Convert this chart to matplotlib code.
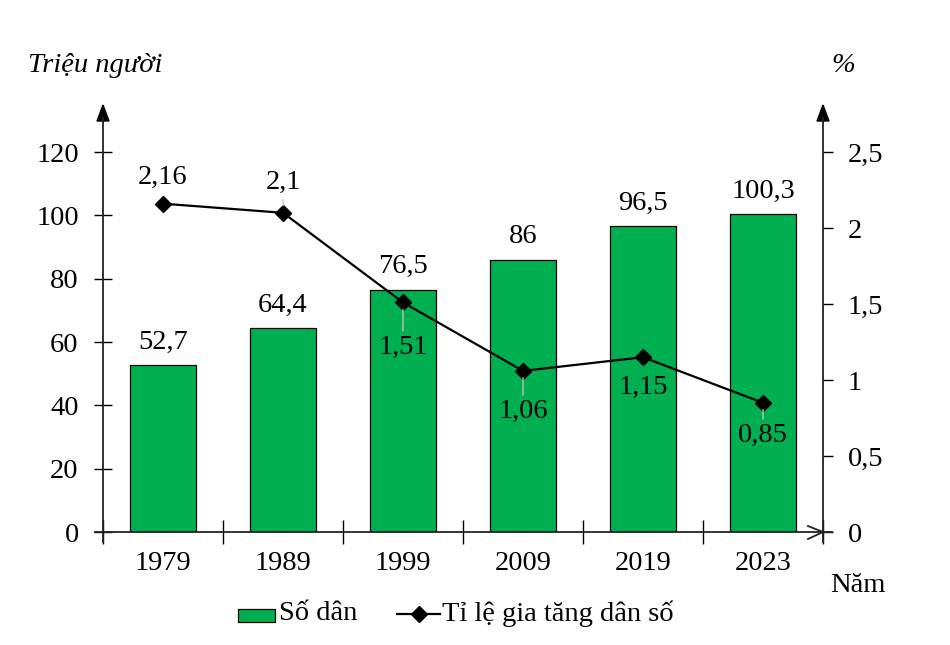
import matplotlib
matplotlib.use("Agg")
import matplotlib.pyplot as plt
from matplotlib.lines import Line2D
from matplotlib.patches import Rectangle

years = ["1979", "1989", "1999", "2009", "2019", "2023"]
population = [52.7, 64.4, 76.5, 86, 96.5, 100.3]
growth_rate = [2.16, 2.1, 1.51, 1.06, 1.15, 0.85]
pop_labels = ["52,7", "64,4", "76,5", "86", "96,5", "100,3"]
rate_labels = ["2,16", "2,1", "1,51", "1,06", "1,15", "0,85"]
left_ticks = [0, 20, 40, 60, 80, 100, 120]
right_ticks = [0, 0.5, 1, 1.5, 2, 2.5]
right_tick_labels = ["0", "0,5", "1", "1,5", "2", "2,5"]

FONT = "Liberation Serif"
FS = 20.5
GREEN = "#00B050"
plt.rcParams["font.family"] = [FONT, "DejaVu Serif"]

W, H = 950, 645
fig = plt.figure(figsize=(9.5, 6.45), dpi=100)
ax_l, ax_r, ax_b, ax_t = 103, 823, 532, 107
ax = fig.add_axes([ax_l / W, 1 - ax_b / H, (ax_r - ax_l) / W, (ax_b - ax_t) / H])
ax2 = ax.twinx()

x = list(range(len(years)))
ytop = 120 * (ax_b - ax_t) / (ax_b - 152)
ax.set_ylim(0, ytop)
ax2.set_ylim(0, ytop * 2.5 / 120)
ax.set_xlim(-0.5, len(years) - 0.5)

bars = ax.bar(x, population, width=0.55, color=GREEN, edgecolor="black", linewidth=0.9, zorder=2)
for xi, v, lab in zip(x, population, pop_labels):
    ax.annotate(lab, (xi, v), xytext=(0, 16.5), textcoords="offset points",
                ha="center", va="center", fontsize=FS)

ax2.plot(x, growth_rate, color="black", lw=1.6, marker="D", ms=8, zorder=3)
offsets_px = [26, 30, -45, -41, -30, -33]
leaders = [False, True, True, True, False, True]
for xi, v, lab, off, ld in zip(x, growth_rate, rate_labels, offsets_px, leaders):
    props = dict(arrowstyle="-", color="#b8c8b8", lw=1.0, shrinkA=1, shrinkB=5) if ld else None
    ax2.annotate(lab, (xi, v), xytext=(0, off * 0.72), textcoords="offset points",
                 ha="center", va="center", fontsize=FS, arrowprops=props)

for a in (ax, ax2):
    for s in a.spines.values():
        s.set_visible(False)

# left axis ticks
ax.set_yticks(left_ticks)
ax.set_yticklabels([str(t) for t in left_ticks], fontsize=FS)
ax.tick_params(axis="y", direction="inout", length=13, width=1.0, pad=11, colors="black")
# right axis ticks
ax2.set_yticks(right_ticks)
ax2.set_yticklabels(right_tick_labels, fontsize=FS)
ax2.tick_params(axis="y", direction="out", length=7, width=1.0, pad=11)
# x ticks
ax.set_xticks(x)
ax.set_xticklabels(years, fontsize=FS)
ax.set_xticks([i - 0.5 for i in range(len(years) + 1)], minor=True)
ax.tick_params(axis="x", which="major", direction="in", length=6, width=1.0, pad=14)
ax.tick_params(axis="x", which="minor", direction="inout", length=17, width=1.0)

# axis lines (drawn in pixel-based figure coordinates)
def fx(px):
    return px / W

def fy(py):
    return 1 - py / H

lw_axis = 1.3
for xpx in (ax_l, ax_r):
    fig.add_artist(Line2D([fx(xpx), fx(xpx)], [fy(542), fy(118)], color="#222222", lw=lw_axis))
    fig.patches.append(plt.Polygon([[fx(xpx), fy(105)], [fx(xpx - 6), fy(121)], [fx(xpx + 6), fy(121)]],
                                   closed=True, color="black", transform=fig.transFigure, figure=fig))
fig.add_artist(Line2D([fx(95), fx(832)], [fy(ax_b), fy(ax_b)], color="#222222", lw=lw_axis))
fig.add_artist(Line2D([fx(808), fx(823), fx(808)], [fy(526), fy(ax_b), fy(539)], color="#222222", lw=lw_axis))

# axis titles
fig.text(fx(28), fy(66), "Triệu người", fontsize=FS, style="italic", ha="left", va="center")
fig.text(fx(843), fy(66), "%", fontsize=FS, style="italic", ha="center", va="center")
fig.text(fx(858), fy(585), "Năm", fontsize=FS, ha="center", va="center")

# legend
fig.patches.append(Rectangle((fx(238), fy(622)), fx(37), 13 / H, facecolor=GREEN, edgecolor="black",
                             lw=0.9, transform=fig.transFigure, figure=fig))
fig.text(fx(279), fy(614), "Số dân", fontsize=FS, ha="left", va="center")
fig.add_artist(Line2D([fx(397), fx(440)], [fy(614), fy(614)], color="black", lw=1.6))
fig.add_artist(Line2D([fx(419)], [fy(614)], color="black", marker="D", ms=8, lw=0))
fig.text(fx(442), fy(614), "Tỉ lệ gia tăng dân số", fontsize=FS, ha="left", va="center")

fig.savefig("out.png", dpi=100)
